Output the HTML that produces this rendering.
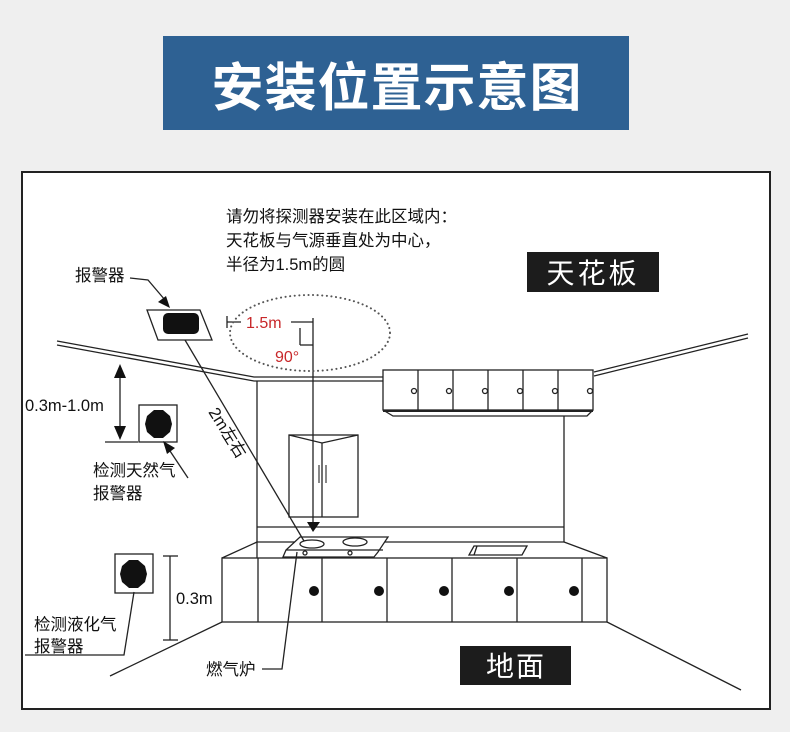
<!DOCTYPE html>
<html><head><meta charset="utf-8"><style>
html,body{margin:0;padding:0;background:#efefef;}
svg{display:block;}
text{font-family:"Liberation Sans","Noto Sans CJK SC",sans-serif;}
</style></head><body>
<svg width="790" height="732" viewBox="0 0 790 732" xmlns="http://www.w3.org/2000/svg">
<rect x="0" y="0" width="790" height="732" fill="#efefef"/>
<rect x="163" y="36" width="466" height="94" fill="#2e6193"/>
<text x="397" y="106" font-size="52" font-weight="bold" fill="#fff" text-anchor="middle" letter-spacing="1">安装位置示意图</text>
<rect x="22" y="172" width="748" height="537" fill="#fff" stroke="#222" stroke-width="2"/>

<g stroke="#222" stroke-width="1.3" fill="none">
<polyline points="57,341 254,377 384,377"/>
<polyline points="57,345 254,381 384,381"/>
<line x1="594" y1="372" x2="748" y2="334"/>
<line x1="594" y1="376" x2="748" y2="338"/>
<rect x="383" y="370" width="210" height="40" fill="#fff"/>
<line x1="418" y1="370" x2="418" y2="410"/><line x1="453" y1="370" x2="453" y2="410"/>
<line x1="488" y1="370" x2="488" y2="410"/><line x1="523" y1="370" x2="523" y2="410"/>
<line x1="558" y1="370" x2="558" y2="410"/>
<polyline points="383,410 393,416 587,416 593,410"/>
<line x1="383" y1="411" x2="593" y2="411" stroke-width="2"/>
<line x1="257" y1="381" x2="257" y2="558"/>
<line x1="564" y1="416" x2="564" y2="542"/>
<line x1="257" y1="527" x2="564" y2="527"/>
<line x1="257" y1="542" x2="564" y2="542"/>
<line x1="257" y1="542" x2="222" y2="558"/>
<line x1="564" y1="542" x2="607" y2="558"/>
<rect x="222" y="558" width="385" height="64"/>
<line x1="258" y1="558" x2="258" y2="622"/><line x1="322" y1="558" x2="322" y2="622"/>
<line x1="387" y1="558" x2="387" y2="622"/><line x1="452" y1="558" x2="452" y2="622"/>
<line x1="517" y1="558" x2="517" y2="622"/><line x1="582" y1="558" x2="582" y2="622"/>
<line x1="222" y1="622" x2="110" y2="676"/>
<line x1="607" y1="622" x2="741" y2="690"/>
<rect x="289" y="435" width="69" height="82" fill="#fff"/>
<polyline points="289,435 322,443 358,435"/>
<line x1="322" y1="443" x2="322" y2="517"/>
<line x1="319" y1="465" x2="319" y2="483" stroke-width="2" stroke="#888"/>
<line x1="326" y1="465" x2="326" y2="483" stroke-width="2" stroke="#888"/>
<polygon points="300,537 388,537 378,552 374,557 283,557 286,550" fill="#fff"/>
<line x1="286" y1="550" x2="383" y2="550"/>
<ellipse cx="312" cy="544" rx="12" ry="4"/>
<ellipse cx="355" cy="542" rx="12" ry="4"/>
<circle cx="305" cy="553" r="2"/><circle cx="350" cy="553" r="2"/>
<polygon points="474,546 527,546 522,555 469,555"/>
<line x1="477" y1="546" x2="474" y2="555"/>
<line x1="313" y1="318" x2="313" y2="522"/>
<line x1="227" y1="322" x2="313" y2="322"/>
<line x1="227" y1="316" x2="227" y2="328"/>
<line x1="300" y1="328" x2="300" y2="345"/><line x1="300" y1="345" x2="313" y2="345"/>
<line x1="185" y1="340" x2="304" y2="541"/>
<polygon points="147,310 200,310 212,340 158,340" fill="#fff"/>
<polyline points="130,278 148,280 165,300"/>
<line x1="120" y1="370" x2="120" y2="436"/>
<line x1="105" y1="442" x2="138" y2="442"/>
<rect x="139" y="405" width="38" height="37" fill="#fff"/>
<line x1="188" y1="478" x2="168" y2="448"/>
<rect x="115" y="554" width="38" height="39" fill="#fff"/>
<line x1="170" y1="556" x2="170" y2="640"/>
<line x1="163" y1="556" x2="178" y2="556"/>
<line x1="163" y1="640" x2="178" y2="640"/>
<polyline points="25,655 124,655 134,592"/>
<polyline points="262,669 282,669 297,552"/>
</g>
<ellipse cx="310" cy="333" rx="80" ry="38" fill="none" stroke="#555" stroke-width="2" stroke-dasharray="0.1 4.5" stroke-linecap="round"/>
<g fill="#111">
<circle cx="314" cy="591" r="5"/><circle cx="379" cy="591" r="5"/><circle cx="444" cy="591" r="5"/>
<circle cx="509" cy="591" r="5"/><circle cx="574" cy="591" r="5"/>
<rect x="163" y="313" width="36" height="21" rx="5"/>
<polygon points="154,410 163,410 170,416 172,424 170,432 163,438 154,438 147,432 145,424 147,416"/>
<polygon points="129,560 138,560 145,566 147,574 145,582 138,588 129,588 122,582 120,574 122,566"/>
<polygon points="307,522 320,522 313,532"/>
<polygon points="120,364 114,378 126,378"/>
<polygon points="120,440 114,426 126,426"/>
<polygon points="170,308 158,302 166,296"/>
<polygon points="163,441 175,448 167,454"/>
</g>
<g fill="none" stroke="#222" stroke-width="1.3">
<circle cx="414" cy="391" r="2.5"/><circle cx="449" cy="391" r="2.5"/><circle cx="485" cy="391" r="2.5"/>
<circle cx="520" cy="391" r="2.5"/><circle cx="555" cy="391" r="2.5"/><circle cx="590" cy="391" r="2.5"/>
</g>
<rect x="241" y="315" width="50" height="15" fill="#fff"/>
<text x="246" y="328" font-size="16" fill="#c8282a">1.5m</text>
<text x="275" y="362" font-size="16" fill="#c8282a">90°</text>

<g font-size="16.5" fill="#111">
<text x="226" y="222">请勿将探测器安装在此区域内：</text>
<text x="226" y="246">天花板与气源垂直处为中心，</text>
<text x="226" y="270">半径为1.5m的圆</text>
<text x="75" y="281">报警器</text>
<text x="25" y="411">0.3m-1.0m</text>
<text x="93" y="476">检测天然气</text>
<text x="93" y="499">报警器</text>
<text x="176" y="604">0.3m</text>
<text x="34" y="630">检测液化气</text>
<text x="34" y="652">报警器</text>
<text x="206" y="675">燃气炉</text>
<text x="0" y="0" transform="translate(208,412) rotate(58)">2m左右</text>
</g>
<rect x="527" y="252" width="132" height="40" fill="#1c1c1c"/>
<text x="593" y="283" font-size="28" fill="#fff" text-anchor="middle" letter-spacing="3">天花板</text>
<rect x="460" y="646" width="111" height="39" fill="#1c1c1c"/>
<text x="516" y="676" font-size="28" fill="#fff" text-anchor="middle" letter-spacing="2">地面</text>
</svg>
</body></html>
